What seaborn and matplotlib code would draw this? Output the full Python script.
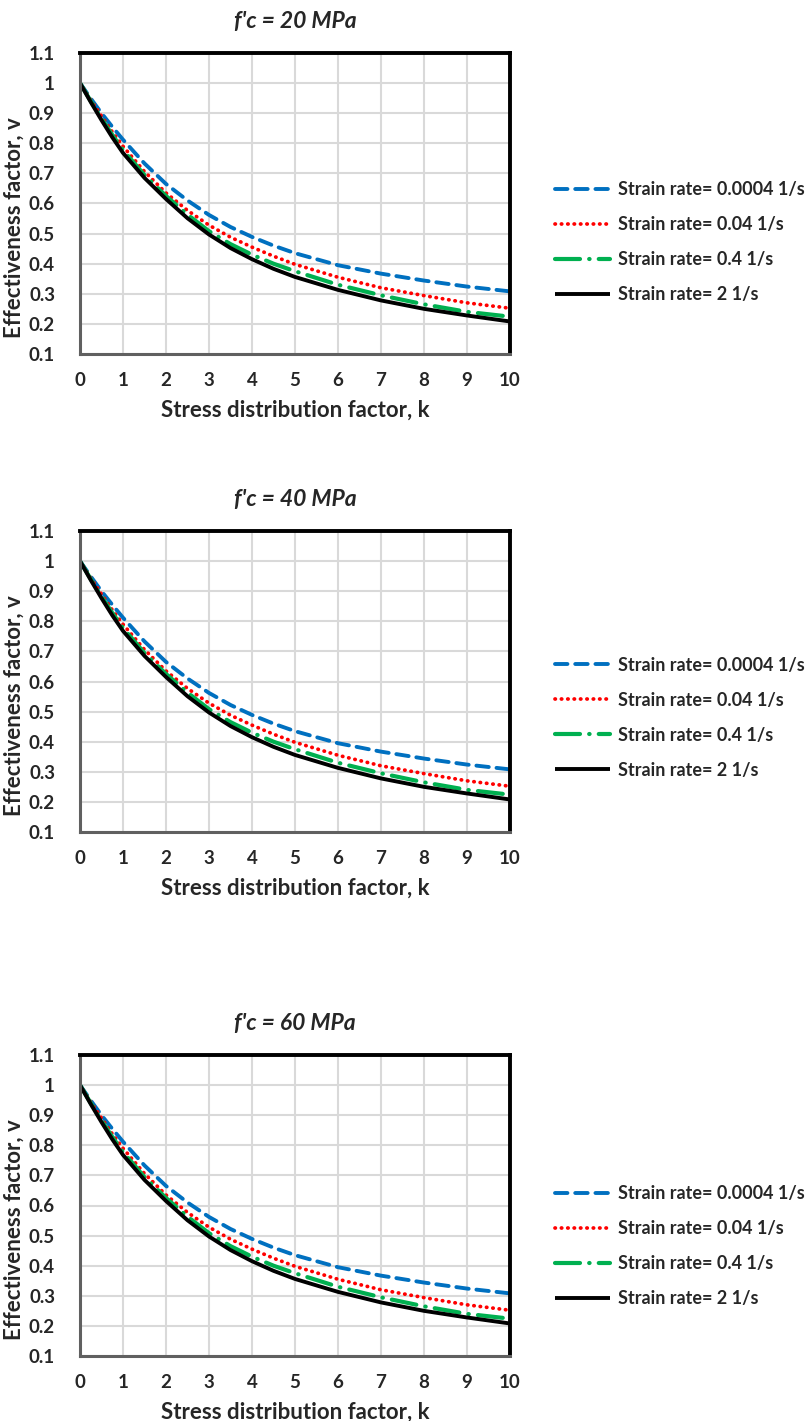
import numpy as np
import pandas as pd
import matplotlib
matplotlib.use("Agg")
import matplotlib.pyplot as plt
import seaborn as sns

# ── data ─────────────────────────────────────────────────────
k = [0, 0.25, 0.5, 0.75, 1, 1.5, 2, 2.5, 3, 3.5, 4, 4.5, 5, 6, 7, 8, 9, 10]

v_00004 = [1, 0.949, 0.900, 0.855, 0.812, 0.733, 0.665, 0.610, 0.562, 0.522,
           0.489, 0.460, 0.435, 0.395, 0.367, 0.344, 0.324, 0.308]
v_004 = [1, 0.944, 0.890, 0.838, 0.790, 0.706, 0.635, 0.577, 0.528, 0.488,
         0.455, 0.425, 0.398, 0.355, 0.320, 0.294, 0.270, 0.252]
v_04 = [1, 0.940, 0.882, 0.828, 0.778, 0.694, 0.625, 0.563, 0.508, 0.465,
        0.430, 0.400, 0.375, 0.330, 0.295, 0.265, 0.240, 0.224]
v_2 = [1, 0.937, 0.877, 0.820, 0.768, 0.685, 0.615, 0.551, 0.497, 0.452,
       0.415, 0.383, 0.356, 0.313, 0.278, 0.250, 0.228, 0.208]

series_labels = ["Strain rate= 0.0004 1/s", "Strain rate= 0.04 1/s",
                 "Strain rate= 0.4 1/s", "Strain rate= 2 1/s"]
series_values = [v_00004, v_004, v_04, v_2]
titles = ["f'c = 20 MPa", "f'c = 40 MPa", "f'c = 60 MPa"]
ytick_labels = ["0.1", "0.2", "0.3", "0.4", "0.5", "0.6", "0.7",
                "0.8", "0.9", "1", "1.1"]

colors = ["#0070C0", "#FF0000", "#00B050", "#000000"]
styles = [(0, (3.2, 2.0)), (0, (0.1, 1.6)), (0, (6, 2.2, 0.1, 2.2)), "-"]
widths = [2.8, 2.7, 3.0, 2.8]

sns.set_style("white")
plt.rcParams["font.family"] = ["Lato", "DejaVu Sans"]
plt.rcParams["font.weight"] = "bold"

fig = plt.figure(figsize=(8.09, 14.21), dpi=100)
W, H = 809, 1421
panel_tops = [53, 531, 1055]
ax_h = 301
legend_y = [0.372, 0.38, 0.365]

for i, top in enumerate(panel_tops):
    ax = fig.add_axes([80 / W, 1 - (top + ax_h) / H, 430 / W, ax_h / H])
    for lab, vals, c, ls, lw in zip(series_labels, series_values, colors, styles, widths):
        sns.lineplot(x=k, y=vals, ax=ax, color=c, linestyle=ls, linewidth=lw,
                     label=lab, dash_capstyle="round", solid_capstyle="butt")
    ax.set_xlim(0, 10)
    ax.set_ylim(0.1, 1.1)
    ax.set_xticks(range(0, 11))
    ax.set_yticks(np.round(np.arange(0.1, 1.11, 0.1), 1))
    ax.set_yticklabels(ytick_labels)
    ax.grid(True, color="#d9d9d9", linewidth=1.5)
    ax.set_axisbelow(True)
    ax.tick_params(axis="both", length=0, labelsize=13.5)
    ax.tick_params(axis="x", pad=13)
    ax.tick_params(axis="y", pad=18)
    for side in ["top", "right"]:
        ax.spines[side].set_color("black")
        ax.spines[side].set_linewidth(2.8)
    for side in ["left", "bottom"]:
        ax.spines[side].set_color("#606060")
        ax.spines[side].set_linewidth(2.2)
    ax.set_xlabel("Stress distribution factor, k", fontsize=16,
                  fontweight="bold", labelpad=8)
    ax.set_ylabel("Effectiveness factor, v", fontsize=16, fontweight="bold")
    ax.yaxis.set_label_coords(-0.128, 0.42)
    ax.set_title(titles[i], fontsize=16.5, fontweight="bold", style="italic", pad=18)
    ax.legend(loc="center left", bbox_to_anchor=(1.088, legend_y[i]), frameon=False,
              fontsize=13, handlelength=3.05, labelspacing=1.0, handletextpad=0.45,
              borderaxespad=0)

plt.savefig("out.png", dpi=100)
